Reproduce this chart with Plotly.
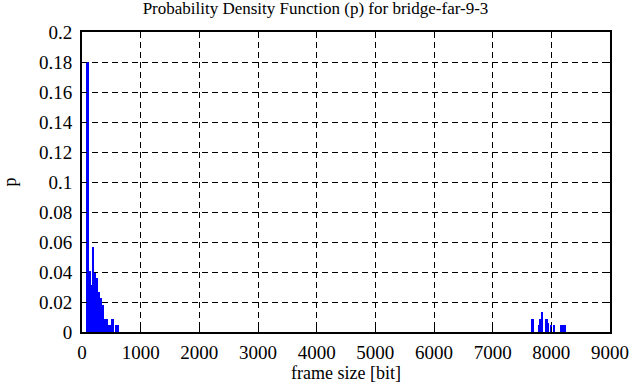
import plotly.graph_objects as go

# Left cluster: bin centers (bits) and probabilities
left_x = [98, 131, 163, 196, 228, 261, 293, 326, 358, 391, 423, 456, 488, 521, 553, 586, 618]
left_p = [0.1802, 0.0405, 0.0315, 0.0565, 0.0395, 0.036, 0.027, 0.0225, 0.018, 0.009, 0.009,
          0.0045, 0.0045, 0.009, 0.0, 0.0045, 0.0045]

# Right cluster
right_x = [7680, 7790, 7818, 7846, 7922, 7946, 7994, 8051, 8177, 8227]
right_p = [0.009, 0.0045, 0.009, 0.0135, 0.009, 0.0063, 0.0045, 0.0045, 0.0045, 0.0045]

bin_width = 32.5

x_ticks = [0, 1000, 2000, 3000, 4000, 5000, 6000, 7000, 8000, 9000]
y_ticks = [0, 0.02, 0.04, 0.06, 0.08, 0.1, 0.12, 0.14, 0.16, 0.18, 0.2]
y_labels = ["0", "0.02", "0.04", "0.06", "0.08", "0.1", "0.12", "0.14", "0.16", "0.18", "0.2"]

fig = go.Figure()
fig.add_trace(go.Bar(x=left_x + right_x, y=left_p + right_p, width=bin_width,
                     marker=dict(color="#0000ff", line=dict(width=0))))

fam = "Liberation Serif, Times New Roman, serif"
font = dict(family=fam, size=18, color="black")
tick_font = dict(family=fam, size=19, color="black")
title_font = dict(family=fam, size=17, color="black")
axis_common = dict(showline=True, linewidth=2, linecolor="black", mirror="allticks",
                   ticks="inside", ticklen=5, tickwidth=1, tickcolor="black",
                   showgrid=True, gridcolor="black", gridwidth=1, griddash="6px,4px",
                   zeroline=False, tickfont=tick_font, automargin=False)

fig.update_layout(
    width=631, height=387,
    margin=dict(l=82, r=21, t=32, b=55),
    paper_bgcolor="white", plot_bgcolor="white",
    font=font,
    showlegend=False,
    bargap=0,
    title=dict(text="Probability Density Function (p) for bridge-far-9-3", x=0.5, xanchor="center",
               y=0.995, yanchor="top", font=title_font, automargin=False),
    xaxis=dict(range=[0, 9000], tickvals=x_ticks, ticktext=[str(v) for v in x_ticks],
               ticklabelstandoff=2,
               title=dict(text="frame size [bit]", font=font, standoff=4), **axis_common),
    yaxis=dict(range=[0, 0.2], tickvals=y_ticks, ticktext=y_labels,
               ticklabelstandoff=4,
               title=dict(text="p", font=font, standoff=20), **axis_common),
)

fig.write_html("out.html", config={"displayModeBar": False},
               post_script="document.body.style.margin='0';")
